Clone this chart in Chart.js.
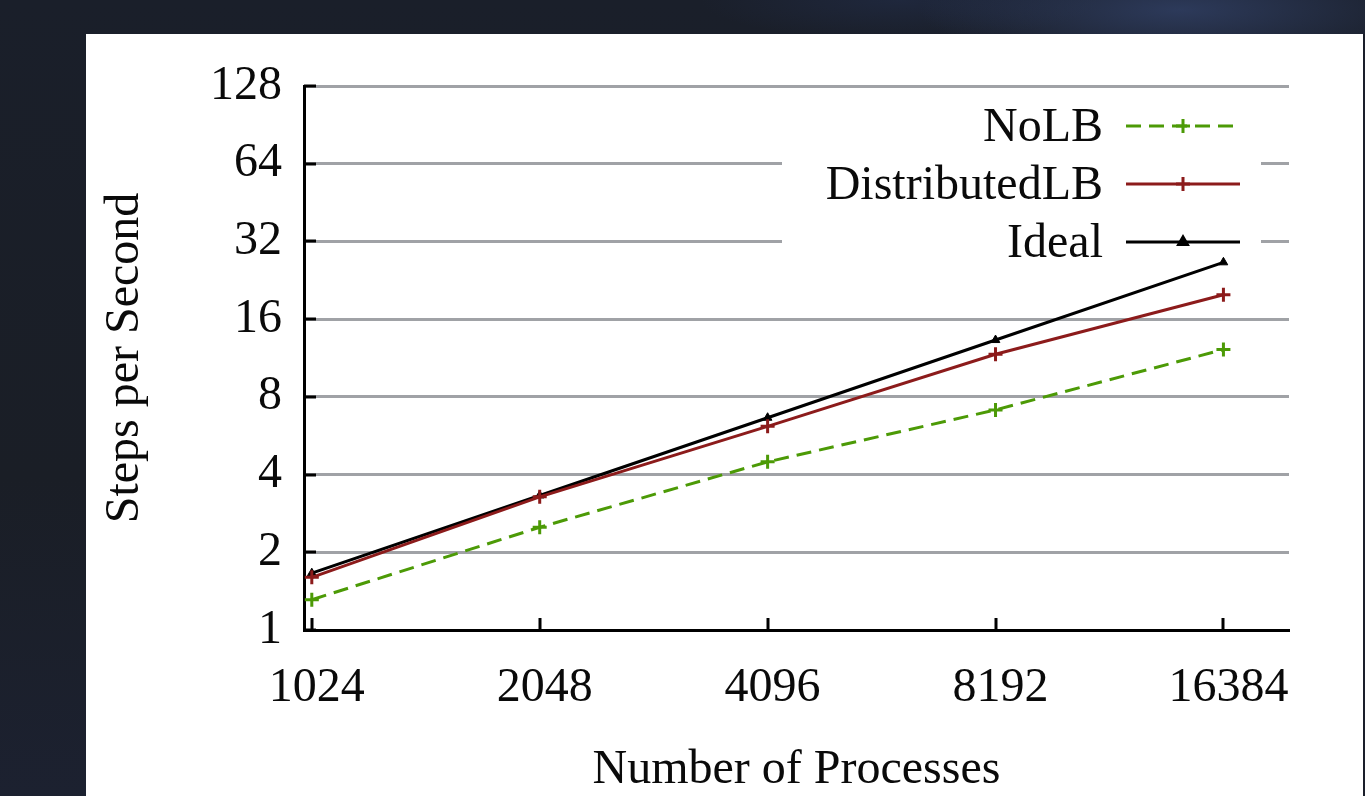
<!DOCTYPE html>
<html>
<head>
<meta charset="utf-8">
<script src="https://cdn.jsdelivr.net/npm/chart.js@4"></script>
<style>
  html, body { margin:0; padding:0; width:1365px; height:796px; overflow:hidden; }
  body {
    background:
      radial-gradient(ellipse 260px 60px at 1180px 10px, rgba(60,80,130,0.55), rgba(0,0,0,0)),
      radial-gradient(ellipse 200px 40px at 900px 0px, rgba(40,55,95,0.35), rgba(0,0,0,0)),
      linear-gradient(180deg, #1a1f2a 0%, #1a1e26 60%, #1c2130 100%);
  }
  #panel {
    position:absolute; left:86px; top:34px; width:1277px; height:762px;
    background:#fff; border-right:2px solid #1a1e2a;
  }
  #chart { display:block; }
</style>
</head>
<body>
<div id="panel"><canvas id="chart" width="1277" height="762"></canvas></div>
<script>
// values
const processes   = [1024, 2048, 4096, 8192, 16384];
const noLB        = [1.31, 2.50, 4.48, 7.12, 12.2];
const distributed = [1.60, 3.28, 6.15, 11.7, 19.9];
const ideal       = [1.66, 3.32, 6.64, 13.28, 26.56];
const yTicks      = [1, 2, 4, 8, 16, 32, 64, 128];
const xTicks      = [1024, 2048, 4096, 8192, 16384];

const FONT = "'Liberation Serif', 'Times New Roman', serif";
const INK = '#0a0a0a';
const GREEN = '#4c9a06';
const RED   = '#8c1b1b';

const pts = vals => vals.map((v, i) => ({ x: processes[i], y: v }));

// gnuplot-style key: white box, text right aligned, line sample on the right
const keyPlugin = {
  id: 'gnuKey',
  beforeDatasetsDraw(chart){
    const ctx = chart.ctx, {left, bottom} = chart.chartArea;
    ctx.save();
    ctx.fillStyle = '#fff';
    ctx.fillRect(696, 66, 479, 158);
    // inward tick marks
    ctx.strokeStyle = '#000'; ctx.lineWidth = 3;
    const xs = chart.scales.x, ys = chart.scales.y;
    xTicks.forEach(v => {
      const px = Math.round(xs.getPixelForValue(v));
      ctx.beginPath(); ctx.moveTo(px, bottom); ctx.lineTo(px, bottom - 12); ctx.stroke();
    });
    yTicks.forEach(v => {
      const py = Math.round(ys.getPixelForValue(v));
      ctx.beginPath(); ctx.moveTo(left, py); ctx.lineTo(left + 12, py); ctx.stroke();
    });
    ctx.restore();
  },
  afterDatasetsDraw(chart){
    const ctx = chart.ctx;
    ctx.save();
    ctx.font = '48px ' + FONT;
    ctx.textAlign = 'right';
    ctx.textBaseline = 'middle';
    chart.data.datasets.forEach((ds, i) => {
      const y = 92 + i * 58;
      ctx.fillStyle = INK;
      ctx.fillText(ds.label, 1017, y + 2);
      ctx.strokeStyle = ds.borderColor;
      ctx.lineWidth = 3;
      ctx.setLineDash(ds.borderDash || []);
      ctx.beginPath(); ctx.moveTo(1040, y); ctx.lineTo(1154, y); ctx.stroke();
      ctx.setLineDash([]);
      ctx.fillStyle = ds.borderColor;
      Chart.helpers.drawPoint(ctx, {
        pointStyle: ds.pointStyle, radius: ds.pointRadius, borderWidth: 3, rotation: 0
      }, 1097, y);
      if (ds.pointStyle === 'triangle') ctx.fill();
    });
    ctx.restore();
  }
};

new Chart(document.getElementById('chart'), {
  type: 'line',
  data: {
    datasets: [
      { label: 'NoLB', data: pts(noLB), borderColor: GREEN, backgroundColor: GREEN,
        borderWidth: 3, borderDash: [15, 8], pointStyle: 'cross', pointRadius: 7,
        pointBorderWidth: 3, tension: 0 },
      { label: 'DistributedLB', data: pts(distributed), borderColor: RED, backgroundColor: RED,
        borderWidth: 3, pointStyle: 'cross', pointRadius: 7, pointBorderWidth: 3, tension: 0 },
      { label: 'Ideal', data: pts(ideal), borderColor: '#000', backgroundColor: '#000',
        borderWidth: 3, pointStyle: 'triangle', pointRadius: 5, pointBorderWidth: 1, tension: 0 }
    ]
  },
  plugins: [keyPlugin],
  options: {
    responsive: false,
    animation: false,
    layout: { padding: { left: 0, top: 52, right: 74, bottom: 0 } },
    plugins: { legend: { display: false }, tooltip: { enabled: false } },
    scales: {
      x: {
        type: 'logarithmic', min: 1000, max: 20000,
        afterBuildTicks: s => { s.ticks = xTicks.map(v => ({ value: v })); },
        afterFit: s => { s.height = 166; },
        grid: { display: false, drawTicks: false },
        border: { color: '#000', width: 3 },
        ticks: { color: INK, padding: 30, labelOffset: 5, maxRotation: 0, autoSkip: false,
                 font: { family: FONT, size: 48 }, callback: v => String(v) },
        title: { display: true, text: 'Number of Processes', color: INK,
                 font: { family: FONT, size: 48, lineHeight: 1 }, padding: { top: 0, bottom: 2 } }
      },
      y: {
        type: 'logarithmic', min: 1, max: 128,
        afterBuildTicks: s => { s.ticks = yTicks.map(v => ({ value: v })); },
        afterFit: s => { s.width = 218; },
        grid: { color: '#a0a2a6', lineWidth: 3, drawTicks: false },
        border: { color: '#000', width: 3 },
        ticks: { color: INK, padding: 22, autoSkip: false,
                 font: { family: FONT, size: 48 }, callback: v => String(v) },
        title: { display: true, text: 'Steps per Second', color: INK,
                 font: { family: FONT, size: 48, lineHeight: 1 }, padding: { top: 15, bottom: 0 } }
      }
    }
  }
});
</script>
</body>
</html>
